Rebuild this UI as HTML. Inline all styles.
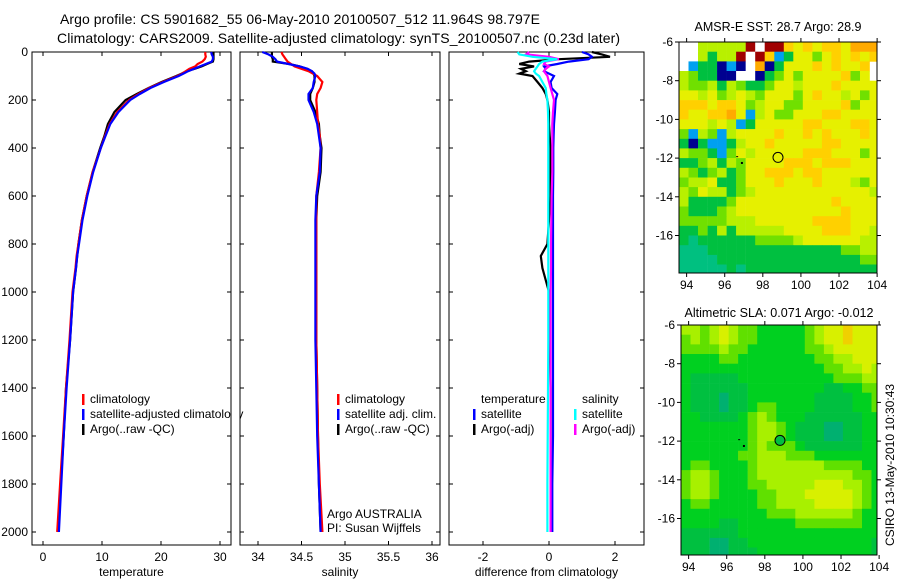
<!DOCTYPE html>
<html><head><meta charset="utf-8"><style>
body{margin:0;background:#fff}
svg{display:block;font-family:"Liberation Sans",sans-serif;font-size:12px}
.big{font-size:14px}
</style></head><body>
<svg id="c" width="900" height="580" viewBox="0 0 900 580">
<text class="big" x="60" y="24" textLength="480">Argo profile: CS 5901682_55 06-May-2010 20100507_512 11.964S 98.797E</text>
<text class="big" x="57" y="43" textLength="563">Climatology: CARS2009. Satellite-adjusted climatology: synTS_20100507.nc (0.23d later)</text>
<g id="g"></g>
</svg>
<script>
const depths=[0,10,20,30,40,50,60,70,80,90,100,125,150,175,200,250,300,350,400,500,600,700,800,850,900,1000,1200,1400,1600,1800,2000];
const tempClim=[27.5,27.5,27.6,27.4,27.0,26.2,25.8,24.8,24.2,23.6,22.8,20.3,18.0,16.2,14.6,12.6,11.3,10.5,9.8,8.4,7.4,6.6,6.0,5.7,5.5,5.0,4.5,3.9,3.4,2.9,2.4];
const tempSat=[28.5,28.6,28.8,28.8,28.6,27.6,26.6,25.6,24.6,23.8,23.0,20.5,18.2,16.4,14.8,12.8,11.4,10.6,9.8,8.5,7.5,6.7,6.1,5.8,5.6,5.1,4.6,4.0,3.5,3.1,2.7];
const tempArgo=[28.9,28.9,28.9,28.9,28.8,27.8,26.9,25.7,24.3,23.5,22.6,20.1,17.9,15.9,14.0,12.1,11.0,10.4,9.7,8.4,7.4,6.6,6.0,5.8,5.6,5.1,4.6,3.9,3.5,3.0,2.6];
const salClim=[34.27,34.28,34.3,34.32,34.34,34.38,34.42,34.5,34.58,34.63,34.68,34.74,34.72,34.68,34.67,34.68,34.69,34.71,34.72,34.70,34.67,34.67,34.67,34.67,34.67,34.67,34.67,34.68,34.69,34.71,34.74];
const salSat=[34.05,34.12,34.17,34.2,34.22,34.35,34.48,34.57,34.62,34.65,34.66,34.64,34.63,34.58,34.58,34.64,34.68,34.7,34.72,34.71,34.67,34.66,34.66,34.66,34.66,34.66,34.66,34.67,34.68,34.7,34.72];
const salArgo=[34.16,34.16,34.16,34.17,34.17,34.36,34.48,34.56,34.62,34.64,34.65,34.65,34.63,34.6,34.6,34.66,34.7,34.71,34.73,34.72,34.68,34.67,34.67,34.67,34.67,34.67,34.67,34.68,34.69,34.7,34.72];
const dTempSat=[1.0,1.2,1.3,1.2,0.6,0.25,-0.15,-0.1,-0.15,0.0,0.15,0.05,0.08,0.25,0.2,0.18,0.15,0.14,0.13,0.13,0.12,0.12,0.12,0.12,0.12,0.12,0.12,0.12,0.12,0.1,0.1];
const dTempArgo=[1.3,1.6,1.85,0.3,-0.6,-0.9,-0.45,-0.85,-0.7,-0.9,-0.5,-0.35,-0.2,-0.1,-0.05,0.0,0.0,0.02,0.05,0.05,0.05,0.0,-0.05,-0.25,-0.2,0.0,0.02,0.05,0.05,0.05,0.05];
const dSalSat=[-0.95,-0.9,-0.5,0.25,-0.2,-0.3,-0.35,-0.4,-0.45,-0.4,-0.3,-0.2,-0.1,-0.08,-0.05,-0.03,-0.02,-0.02,-0.02,-0.02,-0.02,-0.02,-0.02,-0.02,-0.02,-0.02,-0.02,-0.03,-0.04,-0.05,-0.05];
const dSalArgo=[-0.6,-0.7,0.0,0.3,-0.1,-0.15,0.0,-0.1,-0.15,-0.1,-0.05,0.0,0.05,0.1,0.15,0.12,0.1,0.1,0.1,0.1,0.08,0.07,0.06,0.06,0.06,0.05,0.05,0.05,0.05,0.05,0.05];
const depthTicks=[0,200,400,600,800,1000,1200,1400,1600,1800,2000];
const tempTicks=[0,10,20,30];
const salTicks=[34,34.5,35,35.5,36];
const salTickLabels=["34","34.5","35","35.5","36"];
const diffTicks=[-2,0,2];
const latTicks=[-6,-8,-10,-12,-14,-16];
const lonTicks=[94,96,98,100,102,104];
const sstRows=[
"..333337.775454554666",
"..31337.75c1442454545",
".c118c8.681444545445",
"321188..812424444524",
"322313211244344454444",
"443423432444245443424",
"555455423442244445244",
"5445564c3422444554444",
"444343c14444455444554",
"2c32c3444454454544454",
"181cc1344544444554444",
"3221c2434444455544424",
"112313244445554555444",
"321231244555455444444",
"233411244454445444324",
"324331234444444444443",
"311112444444444454444",
"211123444444444445444",
"222223334444445555444",
"112131333334444555443",
"101111112222344444433",
"000111111111111112233",
"000011111111111111122",
"000001011111111111111"];
const slaRows=[
"443454332222234556555","343454332222234556555","333343322222233455555","222233222222223344555",
"222222222222222334454","211111222222222233344","211111122222222112233","211101122222221111223",
"211101123322221111223","221111234322211111122","222222234432111001122","222222234432111001122",
"222222234333211111122","222222334443332222222","233222234444444333322","344322234444444444332",
"344322233444445554432","344322223344455555432","233222223344445555432","222222222333444444322",
"222211222222333333322","111111222222222222222","111001122222222222221","111001112222222222221"];
const sstVal=28.7, argoSst=28.9, slaVal=0.071, argoSla=-0.012;
const floatLon=98.797, floatLat=-11.964;
const NS="http://www.w3.org/2000/svg";
const G=document.getElementById('g');
function mk(t,a,p){const e=document.createElementNS(NS,t);for(const k in a)e.setAttribute(k,a[k]);(p||G).appendChild(e);return e;}
const yD=d=>52+d*0.24;
function panel(name,x0,x1,xs,ticks,labels,title,showY){
  const g=mk('g',{});
  
  
  const r=mk('rect',{x:x0,y:52,width:x1-x0,height:493,fill:'none',stroke:'#000','stroke-width':1},g);
  
  
  ticks.forEach((v,i)=>{const x=xs(v);
    mk('line',{x1:x,x2:x,y1:545,y2:541,stroke:'#000'},g);mk('line',{x1:x,x2:x,y1:52,y2:56,stroke:'#000'},g);
    const t=mk('text',{x:x,y:561,'text-anchor':'middle'},g);t.textContent=labels[i];
    
    });
  depthTicks.forEach(d=>{const y=yD(d);
    mk('line',{x1:x0,x2:x0+4,y1:y,y2:y,stroke:'#000'},g);mk('line',{x1:x1,x2:x1-4,y1:y,y2:y,stroke:'#000'},g);
    if(showY){const t=mk('text',{x:28,y:y+4,'text-anchor':'end'},g);t.textContent=d;
      
      }});
  const tt=mk('text',{x:(x0+x1)/2,y:576,'text-anchor':'middle'},g);tt.textContent=title;
  
  
  return g;
}
function line(name,vals,xs,col,p){
  const pts=vals.map((v,i)=>xs(v).toFixed(1)+','+yD(depths[i]).toFixed(1)).join(' ');
  const l=mk('polyline',{points:pts,fill:'none',stroke:col,'stroke-width':2.2},p);
  
  
}
function legend(p,x,y,col,txt){
  if(col)mk('rect',{x:x,y:y-9,width:2.5,height:11,fill:col},p);
  const t=mk('text',{x:x+8,y:y},p);t.textContent=txt;
  
  
}
const xT=v=>43+v*5.9;
const p1=panel('temperature-panel',32,231,xT,tempTicks,tempTicks.map(String),'temperature',true);
line('temp-argo-line',tempArgo,xT,'#000',p1);line('temp-clim-line',tempClim,xT,'#f00',p1);line('temp-sat-line',tempSat,xT,'#00f',p1);
legend(p1,82,403,'#f00','climatology');legend(p1,82,418,'#00f','satellite-adjusted climatology');legend(p1,82,433,'#000','Argo(..raw -QC)');
mk('rect',{x:231,y:385,width:9,height:55,fill:'#fff'},p1);
mk('line',{x1:231,x2:231,y1:52,y2:545,stroke:'#000'},p1);
const xS=v=>258+(v-34)*87;
const p2=panel('salinity-panel',240,440,xS,salTicks,salTickLabels,'salinity',false);
line('sal-argo-line',salArgo,xS,'#000',p2);line('sal-clim-line',salClim,xS,'#f00',p2);line('sal-sat-line',salSat,xS,'#00f',p2);
legend(p2,337,403,'#f00','climatology');legend(p2,337,418,'#00f','satellite adj. clim.');legend(p2,337,433,'#000','Argo(..raw -QC)');
const a1=mk('text',{x:327,y:518},p2);a1.textContent='Argo AUSTRALIA';


const a2=mk('text',{x:327,y:532},p2);a2.textContent='PI: Susan Wijffels';


const xF=v=>549+v*33;
const p3=panel('difference-panel',449,644,xF,diffTicks,diffTicks.map(String),'difference from climatology',false);
line('dtemp-argo-line',dTempArgo,xF,'#000',p3);line('dtemp-sat-line',dTempSat,xF,'#00f',p3);
line('dsal-argo-line',dSalArgo,xF,'#f0f',p3);line('dsal-sat-line',dSalSat,xF,'#0ff',p3);
legend(p3,473,403,null,'temperature');legend(p3,473,418,'#00f','satellite');legend(p3,473,433,'#000','Argo(-adj)');
legend(p3,574,403,null,'salinity');legend(p3,574,418,'#0ff','satellite');legend(p3,574,433,'#f0f','Argo(-adj)');

const sstCols={'0':'#00c080','1':'#00c040','2':'#70e000','3':'#b8f000','4':'#e6f000','5':'#ffd000','6':'#ffaa00','7':'#a00000','8':'#000090','c':'#00a0f0','.':'#ffffff'};
const slaCols={'0':'#00b070','1':'#00c040','2':'#00d020','3':'#60e000','4':'#a8f000','5':'#d8f000','6':'#f0d000'};
function map(name,x0,x1,yTop,yBot,rows,cols,title,dotFill,titleY,titleW){
  const g=mk('g',{});
  
  
  const lx=v=>x0+(v-93.6)*19.05, ly=v=>yTop+(-6-v)*19.35;
  const cid=name+'-clip';const cp=mk('clipPath',{id:cid},g);mk('rect',{x:x0,y:yTop,width:x1-x0,height:yBot-yTop},cp);
  const cells=mk('g',{'clip-path':'url(#'+cid+')'},g);
  rows.forEach((row,r)=>{for(let c=0;c<row.length;c++){
    const lon=93.6+c*0.5, lat=-6-r*0.5;
    const cell=mk('rect',{x:lx(lon).toFixed(1),y:ly(lat).toFixed(1),width:9.8,height:10,fill:cols[row[c]]||'#fff'},cells);
    
    }});
  const fr=mk('rect',{x:x0,y:yTop,width:x1-x0,height:yBot-yTop,fill:'none',stroke:'#000'},g);
  
  
  latTicks.forEach(v=>{const y=ly(v);mk('line',{x1:x0-4,x2:x0,y1:y,y2:y,stroke:'#000'},g);mk('line',{x1:x1,x2:x1+4,y1:y,y2:y,stroke:'#000'},g);
    const t=mk('text',{x:x0-6,y:y+4,'text-anchor':'end'},g);t.textContent=v;
    
    });
  lonTicks.forEach(v=>{const x=lx(v);mk('line',{x1:x,x2:x,y1:yBot,y2:yBot+4,stroke:'#000'},g);mk('line',{x1:x,x2:x,y1:yTop,y2:yTop-4,stroke:'#000'},g);
    const t=mk('text',{x:x,y:yBot+16,'text-anchor':'middle'},g);t.textContent=v;
    
    });
  const tt=mk('text',{x:(x0+x1)/2,y:titleY,'text-anchor':'middle','font-size':13,textLength:titleW,lengthAdjust:'spacingAndGlyphs'},g);tt.textContent=title;
  
  
  const c=mk('circle',{cx:lx(floatLon),cy:ly(floatLat),r:5,fill:dotFill,stroke:'#000','stroke-width':1},g);
  
  
  mk('rect',{x:lx(96.85),y:ly(-12.2),width:2,height:2,fill:'#000'},g);
  mk('rect',{x:lx(96.6),y:ly(-11.9),width:2,height:1,fill:'#000'},g);
}
map('sst-map',679,877,42,273,sstRows,sstCols,'AMSR-E SST: '+sstVal+' Argo: '+argoSst,'none',31,167);
map('sla-map',681,877,325,555,slaRows,slaCols,'Altimetric SLA: '+slaVal+' Argo: '+argoSla,'#00c040',317,189);
const st=mk('text',{x:894,y:465,'text-anchor':'middle',transform:'rotate(-90 894 465)'});
st.textContent='CSIRO 13-May-2010 10:30:43';


</script>
</body></html>
